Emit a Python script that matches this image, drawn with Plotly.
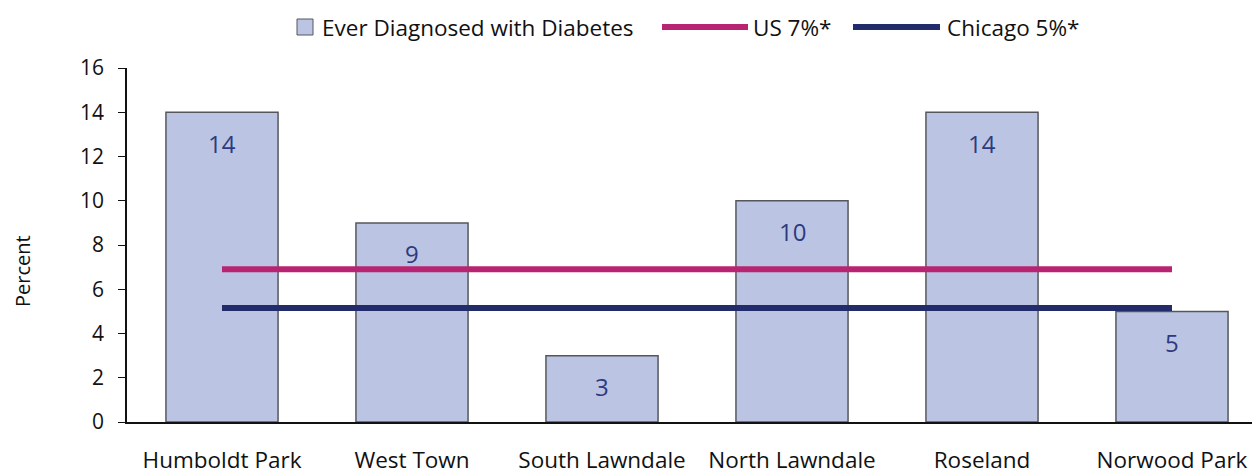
import plotly.graph_objects as go

categories = ["Humboldt Park", "West Town", "South Lawndale", "North Lawndale", "Roseland", "Norwood Park"]
diabetes = [14, 9, 3, 10, 14, 5]
us_rate = 6.9
chicago_rate = 5.15
y_ticks = [0, 2, 4, 6, 8, 10, 12, 14, 16]

FONT = "Open Sans"
BAR = "#bbc5e3"
PINK = "#b82472"
NAVY = "#232c6b"
TXT = "#2e3a80"

# page body has an 8px margin; compensate so the plot lands where the reference has it
OFF = 8
W, H = 1260 - OFF, 476 - OFF
PL, PT, PB = 127, 68, 422          # plot area edges in screenshot pixels
L, T = PL - OFF, PT - OFF
B = H - (PB - OFF)
R = 0
pw = W - L - R
ph = H - T - B

def px(x):
    return (x - PL) / pw

def py(y):
    return (PB - y) / ph

fig = go.Figure()
fig.add_trace(go.Bar(
    x=categories, y=diabetes, width=0.59,
    marker=dict(color=BAR, line=dict(color="#55575c", width=1.5)),
    showlegend=False,
))
fig.add_trace(go.Scatter(
    x=[categories[0], categories[-1]], y=[us_rate, us_rate], mode="lines",
    line=dict(color=PINK, width=6), showlegend=False,
))
fig.add_trace(go.Scatter(
    x=[categories[0], categories[-1]], y=[chicago_rate, chicago_rate], mode="lines",
    line=dict(color=NAVY, width=6), showlegend=False,
))

annotations = []
for c, v in zip(categories, diabetes):
    annotations.append(dict(x=c, y=v, xref="x", yref="y", text=str(v), showarrow=False,
                            yshift=-31, font=dict(family=FONT, size=24, color=TXT)))

# manual legend
ly = py(27)
shapes = [
    dict(type="rect", xref="paper", yref="paper", x0=px(297), x1=px(313),
         y0=py(35), y1=py(19), fillcolor=BAR, line=dict(color="#55575c", width=1)),
    dict(type="line", xref="paper", yref="paper", x0=px(662), x1=px(748), y0=ly, y1=ly,
         line=dict(color=PINK, width=6)),
    dict(type="line", xref="paper", yref="paper", x0=px(853), x1=px(940), y0=ly, y1=ly,
         line=dict(color=NAVY, width=6)),
]
for xpos, label in [(320, "Ever Diagnosed with Diabetes"), (751, "US 7%*"), (945, "Chicago 5%*")]:
    annotations.append(dict(x=px(xpos), y=ly, xref="paper", yref="paper", text=label,
                            showarrow=False, xanchor="left", yanchor="middle",
                            font=dict(family=FONT, size=22.5, color="#111")))

annotations.append(dict(x=px(22), y=py(271), xref="paper", yref="paper", text="Percent",
                        showarrow=False, textangle=-90, xanchor="center", yanchor="middle",
                        font=dict(family=FONT, size=20, color="#111")))

fig.update_layout(
    width=W, height=H,
    margin=dict(l=L, r=R, t=T, b=B),
    plot_bgcolor="white", paper_bgcolor="white",
    font=dict(family=FONT, size=18, color="#111"),
    shapes=shapes, annotations=annotations,
)
fig.update_xaxes(
    range=[-0.5, -0.5 + pw / 190.0], showgrid=False, automargin=False,
    showline=True, linecolor="#111", linewidth=2, ticks="",
    ticklabelstandoff=17, tickfont=dict(family=FONT, size=22.5, color="#111"),
)
fig.update_yaxes(
    range=[0, 16], tickvals=y_ticks, showgrid=False, zeroline=False, automargin=False,
    showline=True, linecolor="#111", linewidth=1.5, ticks="outside", ticklen=7,
    tickcolor="#111", ticklabelstandoff=10, tickfont=dict(family=FONT, size=21, color="#111"),
)

fig.write_html("out.html")
